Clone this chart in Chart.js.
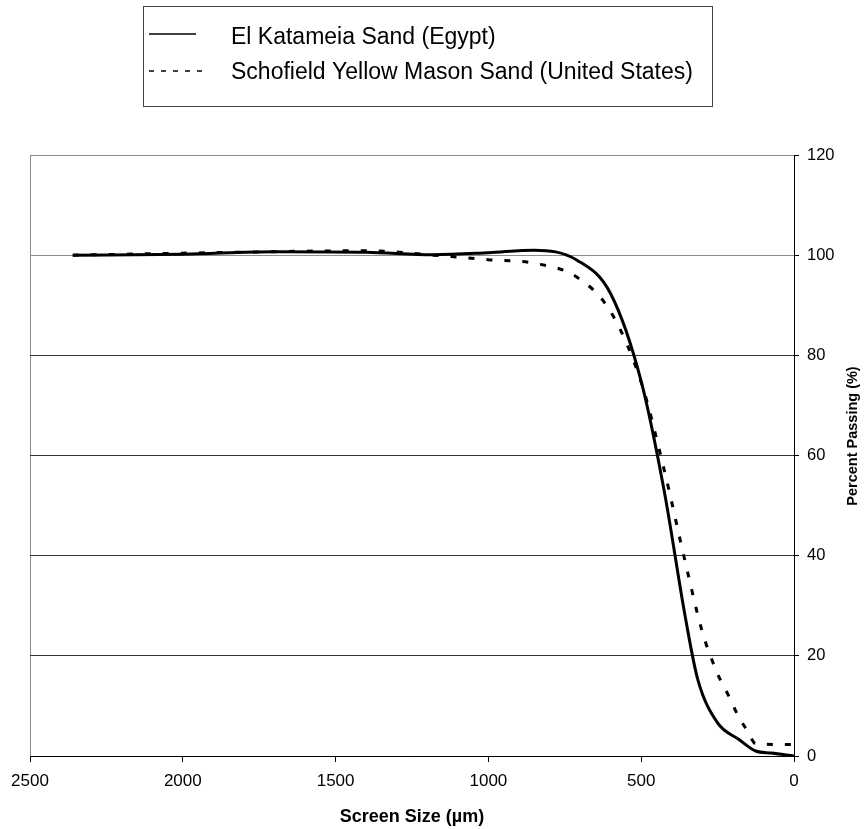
<!DOCTYPE html>
<html>
<head>
<meta charset="utf-8">
<script src="https://cdn.jsdelivr.net/npm/chart.js@4.4.1/dist/chart.umd.min.js"></script>
<style>
  html, body { margin: 0; padding: 0; background: #ffffff; }
  #wrap { width: 867px; height: 829px; }
</style>
</head>
<body>
<div id="wrap"><canvas id="c" width="867" height="829"></canvas></div>
<script>
// ---- data ----
const seriesNames = ['El Katameia Sand (Egypt)', 'Schofield Yellow Mason Sand (United States)'];

const sizesEgypt = [2360, 2000, 1700, 1400, 1180, 1000, 850, 710, 600, 500, 425, 355, 315, 250, 180, 125, 75, 0];
const passEgypt  = [100.0, 100.2, 100.7, 100.6, 100.1, 100.5, 101.0, 99.0, 92.3, 74.8, 53.0, 27.5, 15.3, 6.6, 3.3, 1.0, 0.6, 0.0];

const sizesUS = [2360, 2000, 1700, 1400, 1180, 1000, 850, 710, 600, 500, 425, 355, 300, 250, 212, 180, 150, 125, 0];
const passUS  = [100.0, 100.4, 100.7, 100.9, 100.0, 99.1, 98.4, 95.6, 88.7, 74.6, 57.2, 38.5, 24.8, 16.4, 11.8, 7.7, 4.8, 2.4, 2.3];

const xTickValues = [2500, 2000, 1500, 1000, 500, 0];
const yTickValues = [0, 20, 40, 60, 80, 100, 120];
const xTitle = 'Screen Size (µm)';
const yTitle = 'Percent Passing (%)';

// ---- build points ----
const toPoints = (xs, ys) => xs.map((x, i) => ({ x: x, y: ys[i] }));

const FONT = '"Liberation Sans", Arial, Helvetica, sans-serif';

const overlay = {
  id: 'overlay',
  afterDraw(chart) {
    const ctx = chart.ctx;
    ctx.save();
    // legend box
    ctx.strokeStyle = '#444';
    ctx.lineWidth = 1;
    ctx.setLineDash([]);
    ctx.strokeRect(143.5, 6.5, 569, 100);
    const rows = [34, 71];
    const baselines = [44, 79];
    chart.data.datasets.forEach((ds, i) => {
      ctx.beginPath();
      ctx.strokeStyle = '#000';
      ctx.lineWidth = 1.5;
      ctx.setLineDash(i === 0 ? [] : [5, 7]);
      ctx.moveTo(149, rows[i]);
      ctx.lineTo(i === 0 ? 196 : 202, rows[i]);
      ctx.stroke();
      ctx.setLineDash([]);
      ctx.fillStyle = '#000';
      ctx.font = '23px ' + FONT;
      ctx.textAlign = 'left';
      ctx.textBaseline = 'alphabetic';
      ctx.fillText(ds.label, 231, baselines[i]);
    });
    // right axis title, reading bottom to top
    ctx.translate(853, 436);
    ctx.rotate(-Math.PI / 2);
    ctx.font = 'bold 14.5px ' + FONT;
    ctx.textAlign = 'center';
    ctx.textBaseline = 'middle';
    ctx.fillStyle = '#000';
    ctx.fillText(yTitle, 0, 0);
    ctx.restore();
  }
};

new Chart(document.getElementById('c'), {
  type: 'scatter',
  data: {
    datasets: [
      {
        label: seriesNames[0],
        data: toPoints(sizesEgypt, passEgypt),
        showLine: true,
        borderColor: '#000',
        backgroundColor: '#000',
        borderWidth: 3,
        pointRadius: 0,
        cubicInterpolationMode: 'monotone',
        fill: false
      },
      {
        label: seriesNames[1],
        data: toPoints(sizesUS, passUS),
        showLine: true,
        borderColor: '#000',
        backgroundColor: '#000',
        borderWidth: 3,
        borderDash: [6, 12],
        pointRadius: 0,
        cubicInterpolationMode: 'monotone',
        fill: false
      }
    ]
  },
  options: {
    responsive: false,
    animation: false,
    devicePixelRatio: 1,
    layout: { padding: { left: 30, top: 155, right: 0, bottom: 0 } },
    plugins: {
      legend: { display: false },
      tooltip: { enabled: false },
      title: { display: false }
    },
    scales: {
      x: {
        type: 'linear',
        reverse: true,
        min: 0,
        max: 2500,
        afterBuildTicks: (s) => { s.ticks = xTickValues.map(v => ({ value: v })); },
        afterFit: (s) => { s.height = 73; },
        grid: {
          drawOnChartArea: true,
          color: (c) => (c.tick && c.tick.value === 2500) ? '#8c8c8c' : 'rgba(0,0,0,0)',
          tickColor: '#000',
          tickLength: 6,
          lineWidth: 1
        },
        border: { display: true, color: '#000', width: 1 },
        ticks: {
          color: '#000',
          font: { family: FONT, size: 17 },
          padding: 9,
          maxRotation: 0,
          autoSkip: false,
          callback: (v) => String(v)
        },
        title: {
          display: true,
          text: xTitle,
          color: '#000',
          font: { family: FONT, size: 18, weight: 'bold' },
          padding: { top: 4, bottom: 1 }
        }
      },
      y: {
        type: 'linear',
        position: 'right',
        min: 0,
        max: 120,
        afterBuildTicks: (s) => { s.ticks = yTickValues.map(v => ({ value: v })); },
        afterFit: (s) => { s.width = 73; },
        grid: {
          color: (c) => (c.tick && c.tick.value >= 100) ? '#8c8c8c' : '#333',
          tickColor: '#000',
          tickLength: 5,
          lineWidth: 1
        },
        border: { display: true, color: '#000', width: 1 },
        ticks: {
          color: '#000',
          font: { family: FONT, size: 16.5 },
          padding: 8,
          autoSkip: false,
          callback: (v) => String(v)
        },
        title: { display: false }
      }
    }
  },
  plugins: [overlay]
});
</script>
</body>
</html>
